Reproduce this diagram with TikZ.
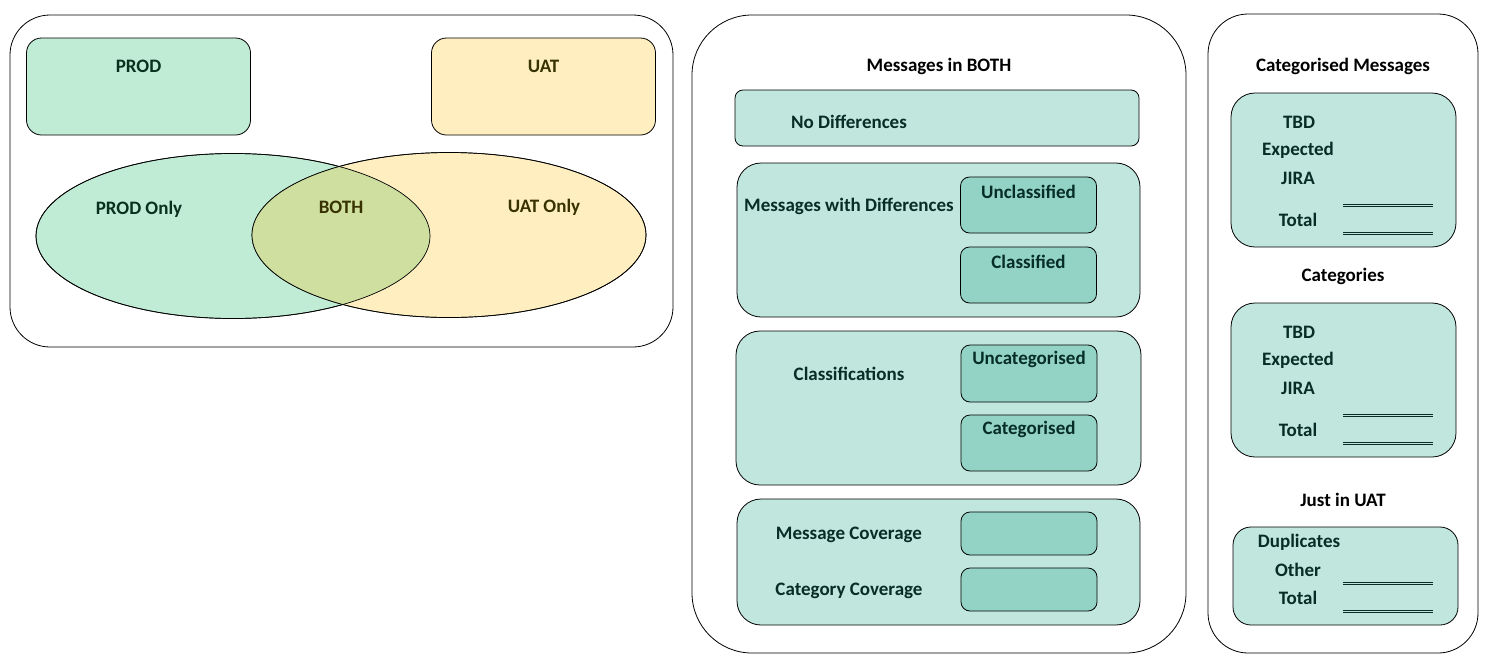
\documentclass[tikz,border=0pt]{standalone}
\usepackage{fontspec}
\setmainfont{Carlito}
\usetikzlibrary{positioning,shapes.geometric}

\definecolor{prodfill}{HTML}{C0EBD5}
\definecolor{uatfill}{HTML}{FFEFC0}
\definecolor{bothfill}{HTML}{CFDF9F}
\definecolor{grpfill}{HTML}{C0E6DE}
\definecolor{cellfill}{HTML}{93D3C6}
\definecolor{tealtxt}{HTML}{062E26}
\definecolor{prodtxt}{HTML}{08301C}
\definecolor{uattxt}{HTML}{383200}

\tikzset{
  panel/.style={draw, line width=0.8pt, rounded corners=40pt, inner sep=0pt},
  setbox/.style={draw, line width=0.8pt, rounded corners=15pt, inner sep=0pt,
                 minimum width=224pt, minimum height=97pt},
  venn/.style={ellipse, draw, line width=0.7pt, inner sep=0pt,
               minimum width=394pt, minimum height=165pt},
  grpbox/.style={draw, line width=0.8pt, fill=grpfill, rounded corners=24pt,
                 inner sep=0pt},
  cellbox/.style={draw, line width=0.8pt, fill=cellfill, rounded corners=9pt,
                  inner sep=0pt, minimum width=136pt, minimum height=56pt},
  lbl/.style={font=\bfseries\fontsize{19}{22}\selectfont, text=tealtxt, inner sep=1pt},
  hdr/.style={lbl, text=black},
  totalline/.style={draw=tealtxt, line width=0.9pt},
}

\begin{document}
\begin{tikzpicture}[x=1pt,y=-1pt]
\useasboundingbox (0,0) rectangle (1498,665);

% left panel: PROD / UAT sets
\node[panel, minimum width=663pt, minimum height=332pt] (left) at (341.5,181) {};
\node[setbox, fill=prodfill] (prod) at (138.5,86.5) {};
\node[setbox, fill=uatfill] (uat) at (543.5,86.5) {};
\node[lbl, text=prodtxt] at ([yshift=-29pt]prod.north) {PROD};
\node[lbl, text=uattxt] at ([yshift=-29pt]uat.north) {UAT};

\node[venn, fill=prodfill] (prodset) at (233,236) {};
\node[venn, fill=uatfill] (uatset) at (449,235) {};
\begin{scope}
  \clip (233,236) ellipse [x radius=197, y radius=82.5];
  \fill[bothfill] (449,235) ellipse [x radius=197, y radius=82.5];
\end{scope}
\node[venn] at (233,236) {};
\node[venn] at (449,235) {};

\node[lbl, text=prodtxt] (prodonly) at (139,209) {PROD Only};
\node[lbl, text=uattxt] (both) at (341,207) {BOTH};
\node[lbl, text=uattxt] (uatonly) at (544,207) {UAT Only};

% middle panel: messages in both
\node[panel, rounded corners=60pt, minimum width=494pt, minimum height=638pt] (mid) at (939,334) {};
\node[hdr] at (939,66) {Messages in BOTH};

\node[grpbox, rounded corners=8pt, minimum width=404pt, minimum height=56pt] (nodiff) at (937,118) {};
\node[lbl] at (849,122) {No Differences};

\node[grpbox, minimum width=403pt, minimum height=154pt] (withdiff) at (938.5,240) {};
\node[lbl] at (849,206) {Messages with Differences};
\node[cellbox] (uncl) at (1028.5,205) {};
\node[lbl] at ([yshift=-15pt]uncl.north) {Unclassified};
\node[cellbox] (cls) at (1028.5,275) {};
\node[lbl] at ([yshift=-15pt]cls.north) {Classified};

\node[grpbox, minimum width=405pt, minimum height=154pt] (classif) at (938.5,408) {};
\node[lbl] at (849,374) {Classifications};
\node[cellbox, minimum height=57pt] (uncat) at (1029,373.5) {};
\node[lbl] at ([yshift=-15pt]uncat.north) {Uncategorised};
\node[cellbox] (cat) at (1029,443) {};
\node[lbl] at ([yshift=-15pt]cat.north) {Categorised};

\node[grpbox, minimum width=403pt, minimum height=126pt] (cover) at (938.5,562) {};
\node[lbl] at (849,535) {Message Coverage};
\node[lbl] at (849,591) {Category Coverage};
\node[cellbox, minimum height=43pt] (msgcov) at (1029,533.5) {};
\node[cellbox, minimum height=43pt] (catcov) at (1029,589.5) {};

% right panel: categorised
\node[panel, minimum width=270pt, minimum height=639pt] (right) at (1343,333.5) {};
\node[hdr] at (1343,66) {Categorised Messages};
\node[grpbox, minimum width=225pt, minimum height=154pt] (catmsg) at (1343.5,170) {};
\node[lbl] at (1299,122) {TBD};
\node[lbl] at (1298,150) {Expected};
\node[lbl] at (1298,178) {JIRA};
\node[lbl] at (1298,220) {Total};
\foreach \y in {204,206.5,232,234.5}
  \draw[totalline] (1343,\y) -- (1433,\y);

\node[hdr] at (1343,276) {Categories};
\node[grpbox, minimum width=225pt, minimum height=154pt] (cats) at (1343.5,380) {};
\node[lbl] at (1299,332) {TBD};
\node[lbl] at (1298,360) {Expected};
\node[lbl] at (1298,388) {JIRA};
\node[lbl] at (1298,430) {Total};
\foreach \y in {414,416.5,442,444.5}
  \draw[totalline] (1343,\y) -- (1433,\y);

\node[hdr] at (1343,500) {Just in UAT};
\node[grpbox, rounded corners=18pt, minimum width=225pt, minimum height=98pt] (justuat) at (1345.5,576) {};
\node[lbl] at (1299,542) {Duplicates};
\node[lbl] at (1298,570) {Other};
\node[lbl] at (1298,598) {Total};
\foreach \y in {582,584.5,610,612.5}
  \draw[totalline] (1343,\y) -- (1433,\y);

\end{tikzpicture}
\end{document}
